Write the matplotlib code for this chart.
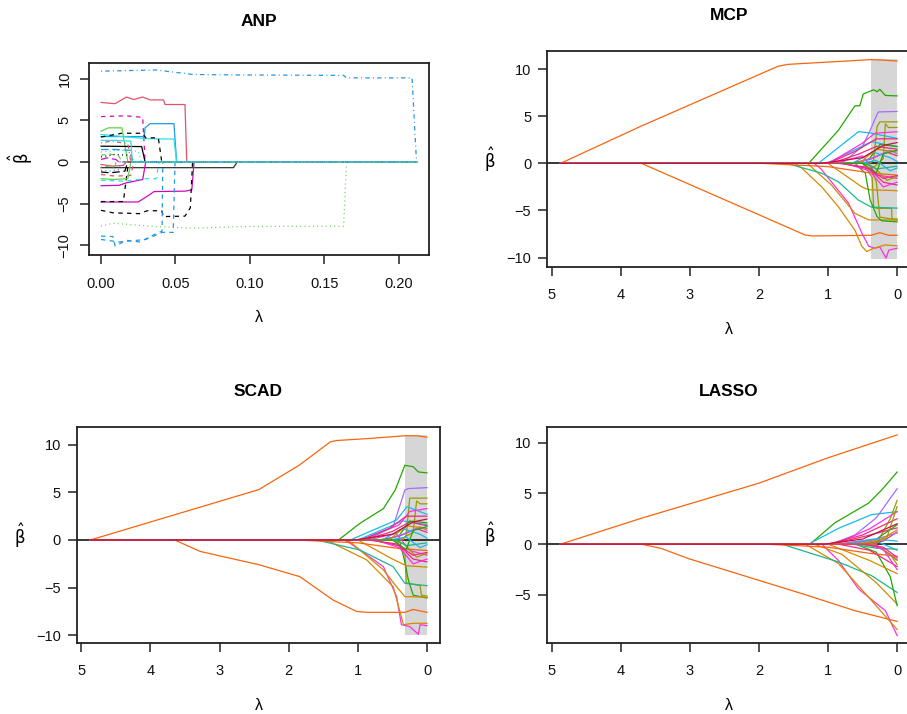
import matplotlib
matplotlib.use("Agg")
import matplotlib.pyplot as plt

plt.rcParams['font.family'] = ['Liberation Sans', 'DejaVu Sans']
plt.rcParams['mathtext.fontset'] = 'custom'
plt.rcParams['mathtext.rm'] = 'DejaVu Sans'
plt.rcParams['mathtext.it'] = 'DejaVu Sans'
plt.rcParams['mathtext.bf'] = 'DejaVu Sans:bold'

# ---------------- DATA ----------------
# ANP panel: each path is (lambda knots, beta knots)
anp_lam = [
    [0, 0.037, 0.062, 0.093, 0.163, 0.165, 0.209, 0.212],
    [0, 0.0094, 0.017, 0.022, 0.028, 0.033, 0.042, 0.043, 0.0564, 0.0576, 0.212],
    [0, 0.017, 0.028, 0.0296, 0.212],
    [0, 0.029, 0.0296, 0.033, 0.049, 0.0508, 0.212],
    [0, 0.03, 0.049, 0.0508, 0.212],
    [0, 0.0139, 0.028, 0.03, 0.0385, 0.0408, 0.212],
    [0, 0.005, 0.014, 0.016, 0.018, 0.212],
    [0, 0.0273, 0.0296, 0.212],
    [0, 0.089, 0.0915, 0.212],
    [0, 0.025, 0.032, 0.0356, 0.0564, 0.061, 0.0625, 0.212],
    [0, 0.008, 0.026, 0.031, 0.0408, 0.042, 0.0564, 0.06, 0.0615, 0.212],
    [0, 0.015, 0.0184, 0.212],
    [0, 0.008, 0.0095, 0.017, 0.026, 0.037, 0.041, 0.0415, 0.212],
    [0, 0.012, 0.03, 0.041, 0.0485, 0.0497, 0.212],
    [0, 0.008, 0.037, 0.062, 0.093, 0.163, 0.165, 0.212],
    [0, 0.01, 0.02, 0.022, 0.212],
    [0, 0.008, 0.018, 0.02, 0.212],
    [0, 0.01, 0.025, 0.027, 0.212],
    [0, 0.012, 0.017, 0.028, 0.03, 0.212],
    [0, 0.006, 0.016, 0.018, 0.212],
    [0, 0.007, 0.018, 0.02, 0.212],
    [0, 0.005, 0.012, 0.014, 0.212],
    [0, 0.01, 0.02, 0.021, 0.212],
    [0, 0.015, 0.03, 0.037, 0.039, 0.212],
    [0, 0.004, 0.01, 0.012, 0.212],
    [0, 0.008, 0.015, 0.017, 0.212],
    [0, 0.009, 0.02, 0.022, 0.212],
    [0, 0.005, 0.009, 0.01, 0.212],
    [0, 0.01, 0.02, 0.021, 0.212],
    [0, 0.006, 0.012, 0.013, 0.212],
]
anp_beta = [
    [10.9, 11.05, 10.5, 10.45, 10.4, 10.1, 10.1, 0],
    [7.15, 7.0, 7.8, 7.5, 7.8, 7.45, 7.45, 6.9, 6.9, 0, 0],
    [5.45, 5.55, 5.35, 0, 0],
    [3.05, 3.05, 4.1, 4.6, 4.6, 0, 0],
    [3.3, 2.8, 2.75, 0, 0],
    [3.0, 3.45, 3.45, 2.9, 2.9, 0, 0],
    [3.7, 4.1, 4.1, 2.0, 0, 0],
    [1.9, 1.85, 0, 0],
    [-0.68, -0.68, 0, 0],
    [-4.8, -4.8, -4.0, -3.55, -3.5, -3.35, 0, 0],
    [-5.8, -6.1, -6.2, -5.85, -5.85, -6.55, -6.5, -5.5, 0, 0],
    [-4.75, -4.75, 0, 0],
    [-8.9, -8.95, -10.1, -9.4, -9.6, -8.6, -8.3, 0, 0],
    [-9.3, -9.6, -9.3, -8.45, -8.45, 0, 0],
    [-7.7, -7.35, -7.75, -7.95, -7.75, -7.7, 0, 0],
    [-1.5, -1.7, -1.6, 0, 0],
    [-2.0, -2.1, -2.0, 0, 0],
    [1.2, 1.4, 1.3, 0, 0],
    [-2.85, -2.8, -2.5, -2.1, 0, 0],
    [-1.2, -1.3, -1.1, 0, 0],
    [2.3, 2.5, 2.2, 0, 0],
    [0.8, 1.0, 0.7, 0, 0],
    [1.5, 1.5, 1.4, 0, 0],
    [-2.2, -2.3, -2.0, -2.0, 0, 0],
    [0.3, 0.5, 0.3, 0, 0],
    [-0.3, -0.5, -0.4, 0, 0],
    [0.6, 0.9, 0.8, 0, 0],
    [-0.6, -0.5, -0.8, 0, 0],
    [2.6, 2.6, 2.5, 0, 0],
    [-1.0, -1.1, -0.9, 0, 0],
]
anp_col = ['blue', 'red', 'magenta', 'blue', 'cyan', 'black', 'green', 'black',
           'dgray', 'magenta', 'black', 'black', 'blue', 'blue', 'green',
           'red', 'green', 'cyan', 'magenta', 'black', 'red', 'green', 'blue',
           'cyan', 'magenta', 'red', 'black', 'green', 'cyan', 'blue']
anp_lty = ['dotdash', 'solid', 'dashed', 'solid', 'solid', 'dashed', 'solid', 'solid',
           'solid', 'solid', 'dashed', 'dashed', 'dashed', 'dashed', 'dotted',
           'dashed', 'solid', 'dotted', 'solid', 'longdash', 'dotdash', 'dashed',
           'longdash', 'dashed', 'longdash', 'solid', 'dotted', 'dotdash', 'solid', 'dotted']

# MCP panel
mcp_lam = [
    [4.87, 3.70, 1.72, 1.57, 1.09, 0.376, 0.22, 0],
    [4.87, 3.70, 1.33, 1.23, 0.376, 0.25, 0.125, 0],
    [4.87, 1.28, 0.85, 0.61, 0.54, 0.49, 0.34, 0.29, 0.25, 0.17, 0],
    [4.87, 0.8, 0.5, 0.39, 0.29, 0.27, 0],
    [4.87, 0.4, 0.34, 0.29, 0.25, 0],
    [4.87, 0.45, 0.35, 0.2, 0.17, 0.125, 0],
    [4.87, 0.5, 0.36, 0.34, 0.3, 0.08, 0.075, 0],
    [4.87, 0.4, 0.3, 0.25, 0],
    [4.87, 1.14, 0.56, 0.41, 0],
    [4.87, 1.02, 0.37, 0],
    [4.87, 0.99, 0.51, 0.32, 0],
    [4.87, 1.2, 1.1, 0.70, 0.51, 0.41, 0.32, 0.25, 0.16, 0.12, 0],
    [4.87, 1.48, 1.38, 1.09, 0.85, 0.61, 0.51, 0.44, 0.34, 0.17, 0],
    [4.87, 1.0, 0.51, 0.41, 0],
    [4.87, 1.3, 0.95, 0.61, 0.41, 0],
    [4.87, 1.6, 1.09, 0.85, 0.56, 0.37, 0],
    [4.87, 0.61, 0.46, 0.39, 0.29, 0.22, 0],
    [4.87, 1.96, 1.0, 0.4, 0],
    [4.87, 0.99, 0.6, 0.3, 0],
    [4.87, 0.95, 0.55, 0.3, 0],
    [4.87, 0.9, 0.5, 0.3, 0],
    [4.87, 0.8, 0.4, 0.2, 0],
    [4.87, 0.6, 0.4, 0.25, 0],
    [4.87, 0.55, 0.3, 0.1, 0],
    [4.87, 0.5, 0.33, 0.15, 0],
    [4.87, 0.7, 0.4, 0.15, 0],
    [4.87, 0.6, 0.35, 0.1, 0],
    [4.87, 0.45, 0.3, 0],
    [4.87, 0.75, 0.4, 0.2, 0],
    [4.87, 0.65, 0.35, 0.1, 0],
    [4.87, 0.55, 0.3, 0],
    [4.87, 0.5, 0.3, 0.2, 0],
    [4.87, 0.85, 0.45, 0.2, 0],
    [4.87, 1.1, 0.5, 0.2, 0],
]
mcp_beta = [
    [0, 3.96, 10.3, 10.5, 10.7, 11.0, 10.95, 10.85],
    [0, 0, -7.6, -7.7, -7.63, -7.35, -7.63, -7.63],
    [0, 0, 3.5, 6.1, 6.1, 7.35, 7.8, 7.6, 7.85, 7.2, 7.15],
    [0, 0, 1.8, 3.5, 5.2, 5.45, 5.5],
    [0, 0, 0.3, 3.9, 4.4, 4.4],
    [0, 0, -0.5, 0.5, 4.2, 3.8, 3.8],
    [0, 0, -1.5, -4.6, -4.77, -4.77, -5.9, -5.9],
    [0, 0, -2.0, -5.7, -6.0],
    [0, 0, 3.35, 3.25, 2.65],
    [0, 0, 2.3, 1.75],
    [0, 0, 2.1, 3.2, 3.35],
    [0, 0, -0.6, -4.25, -7.4, -8.8, -9.0, -8.85, -10.05, -9.2, -9.0],
    [0, 0, -0.5, -2.5, -4.6, -7.1, -8.8, -9.35, -9.0, -8.65, -8.75],
    [0, 0, -2.5, -2.8, -2.9],
    [0, 0, -2.3, -5.3, -6.0, -6.0],
    [0, 0, -1.05, -1.95, -3.9, -4.65, -4.75],
    [0, 0, -1.05, -3.9, -5.65, -6.1, -6.2],
    [0, 0, -0.35, -1.0, -1.25],
    [0, 0, 1.3, 2.6, 2.6],
    [0, 0, 1.0, 1.8, 1.5],
    [0, 0, 0.8, -1.2, -1.6],
    [0, 0, -0.6, -2.0, -2.3],
    [0, 0, 0.5, 2.0, 1.8],
    [0, 0, 0.3, -0.8, -0.5],
    [0, 0, -0.4, -1.8, -1.4],
    [0, 0, 0.4, 1.2, 0.8],
    [0, 0, 0.6, 1.4, 1.0],
    [0, 0, -0.6, -0.3],
    [0, 0, -0.8, -2.5, -2.0],
    [0, 0, 1.2, 0.6, 0.2],
    [0, 0, 1.5, 1.2],
    [0, 0, -1.0, 1.0, 1.4],
    [0, 0, -0.4, -1.6, -1.3],
    [0, 0, 0.6, 1.9, 2.2],
]
mcp_col = ['orange', 'orange', 'green', 'purple', 'olive', 'olive', 'olive', 'olive',
           'cyan', 'cyan', 'magenta', 'magenta', 'gold', 'gold', 'gold', 'teal', 'green',
           'orange', 'pink', 'pink', 'magenta', 'pink', 'green', 'cyan', 'olive', 'pink',
           'purple', 'teal', 'magenta', 'cyan', 'gold', 'green', 'pink', 'crimson']

# SCAD panel
scad_lam = [
    [4.87, 2.43, 1.85, 1.40, 1.31, 0.87, 0.32, 0.15, 0],
    [4.87, 3.65, 3.28, 2.43, 1.84, 1.36, 1.02, 0.87, 0.32, 0.2, 0],
    [4.87, 1.28, 0.97, 0.63, 0.46, 0.32, 0.2, 0.125, 0],
    [4.87, 0.87, 0.49, 0.32, 0.27, 0],
    [4.87, 0.35, 0.3, 0.25, 0],
    [4.87, 0.4, 0.2, 0.15, 0.1, 0],
    [4.87, 0.45, 0.32, 0.3, 0.1, 0.08, 0],
    [4.87, 0.4, 0.32, 0.27, 0.2, 0],
    [4.87, 1.11, 0.44, 0.29, 0],
    [4.87, 1.0, 0.35, 0],
    [4.87, 0.95, 0.4, 0.25, 0],
    [4.87, 1.2, 1.11, 0.63, 0.44, 0.37, 0.25, 0.125, 0.1, 0],
    [4.87, 1.45, 1.36, 0.87, 0.49, 0.34, 0.2, 0],
    [4.87, 1.0, 0.5, 0.3, 0],
    [4.87, 1.2, 1.11, 0.63, 0.44, 0.32, 0],
    [4.87, 1.6, 0.97, 0.49, 0.32, 0],
    [4.87, 1.9, 1.0, 0.4, 0],
    [4.87, 0.95, 0.55, 0.3, 0],
    [4.87, 0.9, 0.5, 0.25, 0],
    [4.87, 0.85, 0.45, 0.25, 0],
    [4.87, 0.8, 0.4, 0.2, 0],
    [4.87, 0.6, 0.4, 0.25, 0],
    [4.87, 0.55, 0.3, 0.1, 0],
    [4.87, 0.5, 0.33, 0.15, 0],
    [4.87, 0.7, 0.4, 0.15, 0],
    [4.87, 0.6, 0.35, 0.1, 0],
    [4.87, 0.45, 0.3, 0],
    [4.87, 0.75, 0.4, 0.2, 0],
    [4.87, 0.65, 0.35, 0.1, 0],
    [4.87, 0.55, 0.3, 0],
    [4.87, 0.5, 0.3, 0.2, 0],
    [4.87, 0.85, 0.45, 0.2, 0],
    [4.87, 1.05, 0.5, 0.2, 0],
]
scad_beta = [
    [0, 5.3, 7.85, 10.3, 10.45, 10.65, 10.95, 10.95, 10.8],
    [0, 0, -1.2, -2.6, -3.85, -6.3, -7.5, -7.6, -7.6, -7.3, -7.6],
    [0, 0, 1.75, 3.3, 5.25, 7.85, 7.7, 7.15, 7.05],
    [0, 0, 1.4, 5.25, 5.4, 5.5],
    [0, 0, 0.5, 4.4, 4.4],
    [0, 0, 0.8, 4.1, 3.8, 3.8],
    [0, 0, -1.5, -4.5, -4.8, -5.8, -5.9],
    [0, 0, -2.3, -4.2, -5.8, -6.1],
    [0, 0, 2.1, 3.5, 2.7],
    [0, 0, 2.0, 1.6],
    [0, 0, 1.6, 3.0, 3.3],
    [0, 0, -0.35, -2.8, -5.95, -8.9, -9.1, -9.9, -8.9, -9.0],
    [0, 0, -0.35, -2.1, -4.9, -8.9, -8.75, -8.75],
    [0, 0, -2.0, -2.7, -2.85],
    [0, 0, -0.2, -3.15, -4.9, -5.95, -6.0],
    [0, 0, -1.05, -2.8, -4.55, -4.8],
    [0, 0, -0.3, -0.9, -1.1],
    [0, 0, 1.2, 2.5, 2.5],
    [0, 0, 0.9, 1.9, 1.5],
    [0, 0, 0.7, -1.1, -1.6],
    [0, 0, -0.6, -2.0, -2.3],
    [0, 0, 0.5, 2.0, 1.8],
    [0, 0, 0.3, -0.8, -0.5],
    [0, 0, -0.4, -1.8, -1.4],
    [0, 0, 0.4, 1.2, 0.8],
    [0, 0, 0.6, 1.4, 1.0],
    [0, 0, -0.6, -0.3],
    [0, 0, -0.8, -2.5, -2.0],
    [0, 0, 1.2, 0.6, 0.2],
    [0, 0, 1.5, 1.2],
    [0, 0, -1.0, 1.0, 1.4],
    [0, 0, -0.4, -1.6, -1.3],
    [0, 0, 0.6, 1.9, 2.2],
]
scad_col = ['orange', 'orange', 'green', 'purple', 'olive', 'olive', 'olive', 'green',
            'cyan', 'cyan', 'magenta', 'magenta', 'gold', 'gold', 'gold', 'teal',
            'orange', 'pink', 'pink', 'magenta', 'pink', 'green', 'cyan', 'olive', 'pink',
            'purple', 'teal', 'magenta', 'cyan', 'gold', 'green', 'pink', 'crimson']

# LASSO panel
lasso_lam = [
    [4.87, 3.70, 2.0, 1.0, 0],
    [4.87, 3.70, 3.41, 3.02, 1.33, 0.61, 0],
    [4.87, 1.26, 0.90, 0.41, 0.22, 0],
    [4.87, 1.28, 0.85, 0.37, 0],
    [4.87, 0.95, 0.61, 0.3, 0],
    [4.87, 1.09, 0.85, 0.56, 0.17, 0],
    [4.87, 1.33, 0.85, 0.37, 0],
    [4.87, 1.67, 0.85, 0.37, 0],
    [4.87, 1.2, 0.8, 0.3, 0],
    [4.87, 0.6, 0.3, 0.1, 0],
    [4.87, 0.3, 0.1, 0],
    [4.87, 0.35, 0.1, 0],
    [4.87, 1.0, 0.4, 0],
    [4.87, 0.9, 0.4, 0],
    [4.87, 1.9, 1.0, 0.4, 0],
    [4.87, 1.0, 0.5, 0],
    [4.87, 0.95, 0.45, 0],
    [4.87, 0.9, 0.4, 0],
    [4.87, 0.85, 0.4, 0],
    [4.87, 0.7, 0.3, 0],
    [4.87, 0.6, 0.3, 0],
    [4.87, 0.55, 0.25, 0],
    [4.87, 0.5, 0.2, 0],
    [4.87, 0.75, 0.35, 0],
    [4.87, 0.65, 0.3, 0],
    [4.87, 0.45, 0.2, 0],
    [4.87, 0.8, 0.35, 0],
    [4.87, 0.6, 0.25, 0],
    [4.87, 0.4, 0.15, 0],
    [4.87, 0.5, 0.2, 0],
    [4.87, 1.05, 0.5, 0],
]
lasso_beta = [
    [0, 2.55, 6.0, 8.5, 10.75],
    [0, 0, -0.43, -1.42, -4.97, -6.55, -7.6],
    [0, 0, 2.1, 4.05, 5.35, 7.1],
    [0, 0, 1.55, 2.9, 3.2],
    [0, 0, 0.9, 2.6, 5.45],
    [0, 0, -1.6, -4.4, -6.55, -9.0],
    [0, 0, -1.9, -5.55, -8.4],
    [0, 0, -1.75, -3.1, -4.75],
    [0, 0, -1.0, -3.8, -5.9],
    [0, 0, -0.8, -3.2, -6.05],
    [0, 0, 2.5, 4.3],
    [0, 0, -1.0, -2.0],
    [0, 0, -1.6, -2.9],
    [0, 0, 1.5, 3.2],
    [0, 0, -0.3, -0.9, -1.2],
    [0, 0, 0.9, 2.5],
    [0, 0, 0.8, 1.6],
    [0, 0, 0.4, -1.5],
    [0, 0, -0.6, -2.2],
    [0, 0, 0.5, 1.9],
    [0, 0, 0.3, -0.6],
    [0, 0, -0.3, -1.6],
    [0, 0, 0.3, 1.2],
    [0, 0, 0.4, 1.1],
    [0, 0, -0.4, -0.5],
    [0, 0, -0.5, -2.5],
    [0, 0, 0.5, 0.3],
    [0, 0, 0.4, 1.4],
    [0, 0, 0.6, 3.7],
    [0, 0, -0.3, -1.3],
    [0, 0, 0.5, 2.0],
]
lasso_col = ['orange', 'orange', 'green', 'cyan', 'purple', 'magenta', 'gold', 'teal',
             'gold', 'green', 'olive', 'olive', 'gold', 'magenta', 'orange', 'pink',
             'pink', 'magenta', 'pink', 'green', 'cyan', 'olive', 'pink', 'purple',
             'teal', 'magenta', 'cyan', 'gold', 'olive', 'pink', 'crimson']

mcp_shade = [0.376, 0.0, -10.1, 11.03]
scad_shade = [0.318, 0.0, -9.98, 11.0]

titles = ['ANP', 'MCP', 'SCAD', 'LASSO']

# ---------------- STYLE ----------------
palette = {
    'black': '#000000', 'red': '#DF536B', 'green': '#61D04F', 'blue': '#2297E6',
    'cyan': '#28E2E5', 'magenta': '#CD0BBC', 'dgray': '#333333',
    'orange': '#F8650E', 'purple': '#A86BFF', 'olive': '#9C9A00',
    'teal': '#1BB68E', 'gold': '#D48A00', 'pink': '#F0287F', 'crimson': '#C8103E',
}
palette_ncv = dict(palette)
palette_ncv.update({'green': '#21A800', 'cyan': '#18B8F0', 'magenta': '#FF30E0'})
dash_map = {'solid': None, 'dashed': (3.5, 3.5), 'dotted': (0.8, 2.6),
            'dotdash': (0.8, 2.6, 3.5, 2.6), 'longdash': (6, 3)}

W, H = 907, 714
fig = plt.figure(figsize=(W / 100, H / 100), dpi=100)


def frac(l, t, r, b):
    return [l / W, 1 - b / H, (r - l) / W, (b - t) / H]


TICK_FS = 10.5


def style_axes(ax):
    for s in ax.spines.values():
        s.set_linewidth(1.3)
        s.set_color('#222222')
    ax.tick_params(axis='both', length=6.5, width=1.1, color='#222222',
                   labelsize=TICK_FS, labelcolor='#111111')
    ax.tick_params(axis='x', pad=9)
    ax.tick_params(axis='y', pad=5)


# ANP
ax = fig.add_axes(frac(89, 62.7, 428.7, 255.3))
for lam, bet, c, lt in zip(anp_lam, anp_beta, anp_col, anp_lty):
    ln, = ax.plot(lam, bet, color=palette[c], lw=0.9)
    if dash_map[lt] is not None:
        ln.set_dashes(dash_map[lt])
ax.set_xlim(-0.0081, 0.2202)
ax.set_ylim(-11.2, 11.92)
ax.set_xticks([0, 0.05, 0.10, 0.15, 0.20])
ax.set_xticklabels(['0.00', '0.05', '0.10', '0.15', '0.20'])
ax.set_yticks([-10, -5, 0, 5, 10])
style_axes(ax)
for lab in ax.get_yticklabels():
    lab.set_rotation(90)
    lab.set_va('center')
ax.tick_params(axis='y', pad=6)

# ncvreg-style panels
specs = [
    (frac(547.3, 51.3, 910.1, 266.7), mcp_lam, mcp_beta, mcp_col, mcp_shade, (-10.96, 11.88), [-10, -5, 0, 5, 10]),
    (frac(77, 427.3, 440, 642.7), scad_lam, scad_beta, scad_col, scad_shade, (-10.79, 11.84), [-10, -5, 0, 5, 10]),
    (frac(547.3, 427.3, 910.1, 642.7), lasso_lam, lasso_beta, lasso_col, None, (-9.7, 11.5), [-5, 0, 5, 10]),
]
for rect, lams, bets, cols, shade, ylim, yt in specs:
    ax = fig.add_axes(rect)
    if shade is not None:
        ax.fill_between([shade[0], shade[1]], shade[2], shade[3], color='#D6D6D6', lw=0, zorder=1)
    ax.axhline(0, color='black', lw=1.1, zorder=2)
    for lam, bet, c in zip(lams, bets, cols):
        ax.plot(lam, bet, color=palette_ncv[c], lw=0.9, zorder=3)
    ax.set_xlim(5.062, -0.188)
    ax.set_ylim(*ylim)
    ax.set_xticks([5, 4, 3, 2, 1, 0])
    ax.set_yticks(yt)
    style_axes(ax)

# titles and axis labels
title_pos = [(258.9, 21.7), (728.7, 15), (258.5, 391.7), (728.7, 391.7)]
for t, (x, y) in zip(titles, title_pos):
    fig.text(x / W, 1 - y / H, t, ha='center', va='center', fontsize=12.5, fontweight='bold')

lam_pos = [(258.9, 318), (728.7, 330), (258.5, 705), (728.7, 705)]
for x, y in lam_pos:
    fig.text(x / W, 1 - y / H, 'λ', ha='center', va='center', fontsize=11.5)

beta_pos = [(21, 158, 90), (489.3, 159.5, 0), (19.3, 535.5, 0), (489.3, 534.5, 0)]
for x, y, rot in beta_pos:
    fig.text(x / W, 1 - y / H, r'$\hat{\beta}$', ha='center', va='center', fontsize=12,
             rotation=rot)

fig.savefig('out.png', dpi=100)
